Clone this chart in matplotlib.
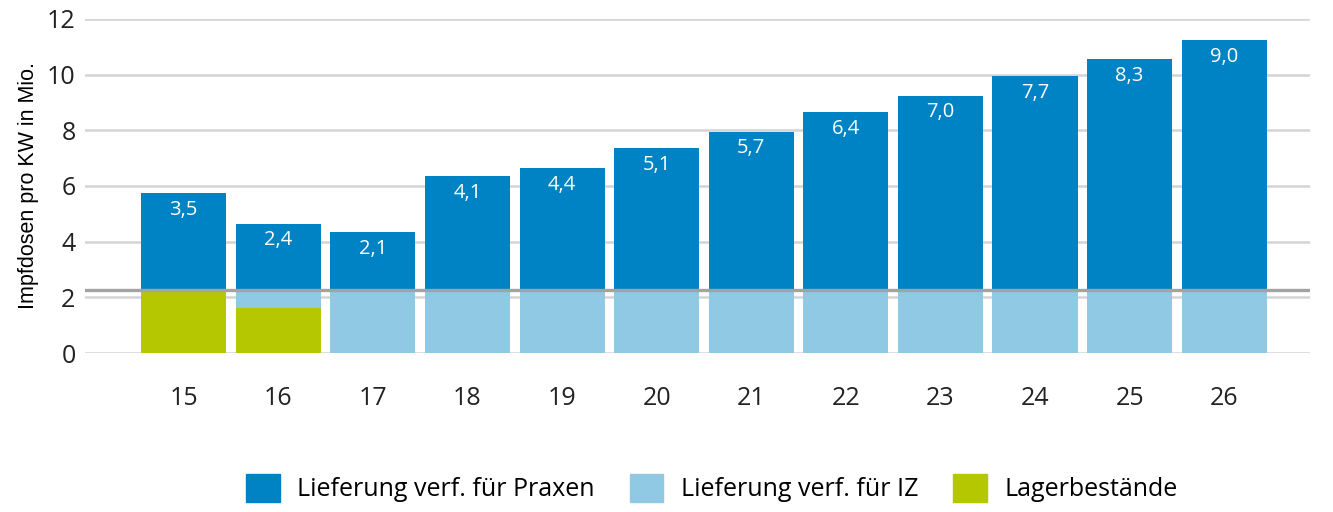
import numpy as np
import matplotlib.pyplot as plt
from matplotlib.patches import Patch

kw = ['15', '16', '17', '18', '19', '20', '21', '22', '23', '24', '25', '26']
lager = [2.25, 1.6, 0, 0, 0, 0, 0, 0, 0, 0, 0, 0]
iz = [0, 0.65, 2.25, 2.25, 2.25, 2.25, 2.25, 2.25, 2.25, 2.25, 2.25, 2.25]
praxen = [3.5, 2.4, 2.1, 4.1, 4.4, 5.1, 5.7, 6.4, 7.0, 7.7, 8.3, 9.0]
basis = 2.25

c_praxen = '#0083c4'
c_iz = '#8fc9e4'
c_lager = '#b4c700'

plt.rcParams['font.family'] = ['Open Sans', 'DejaVu Sans']

fig = plt.figure(figsize=(13.33, 5.12), dpi=100)
ax = fig.add_axes([0.064, 0.3105, 0.919, 0.6525])

x = np.arange(len(kw))
w = 0.9
ax.bar(x, lager, w, color=c_lager, zorder=2)
ax.bar(x, iz, w, bottom=lager, color=c_iz, zorder=2)
ax.bar(x, praxen, w, bottom=basis, color=c_praxen, zorder=2)

# Linie bei der Grundmenge
ax.axhline(basis, color='#a3a3a3', lw=2.4, zorder=3)

for xi, v in zip(x, praxen):
    ax.text(xi, basis + v - 0.6, f'{v:.1f}'.replace('.', ','), ha='center', va='center',
            color='white', fontsize=14.5)

ax.set_xlim(-1.04, 11.91)
ax.set_ylim(0, 12)
ax.set_yticks(range(0, 13, 2))
ax.set_xticks(x)
ax.set_xticklabels(kw)
ax.yaxis.grid(True, color='#d4d4d4', lw=1.8, zorder=0)
ax.set_axisbelow(True)
for s in ax.spines.values():
    s.set_visible(False)
ax.tick_params(axis='both', length=0, labelsize=18, colors='#222222')
ax.tick_params(axis='x', pad=24)
ax.tick_params(axis='y', pad=7)
ax.set_ylabel('Impfdosen pro KW in Mio.', fontsize=15.5, family='Liberation Sans', labelpad=6)

handles = [Patch(color=c_praxen), Patch(color=c_iz), Patch(color=c_lager)]
fig.legend(handles, ['Lieferung verf. für Praxen', 'Lieferung verf. für IZ', 'Lagerbestände'],
           loc='center', bbox_to_anchor=(0.534, 0.047), ncol=3, frameon=False,
           fontsize=18, handlelength=1.35, handleheight=1.35, columnspacing=1.4, handletextpad=0.7)

fig.savefig('out.png', dpi=100)
